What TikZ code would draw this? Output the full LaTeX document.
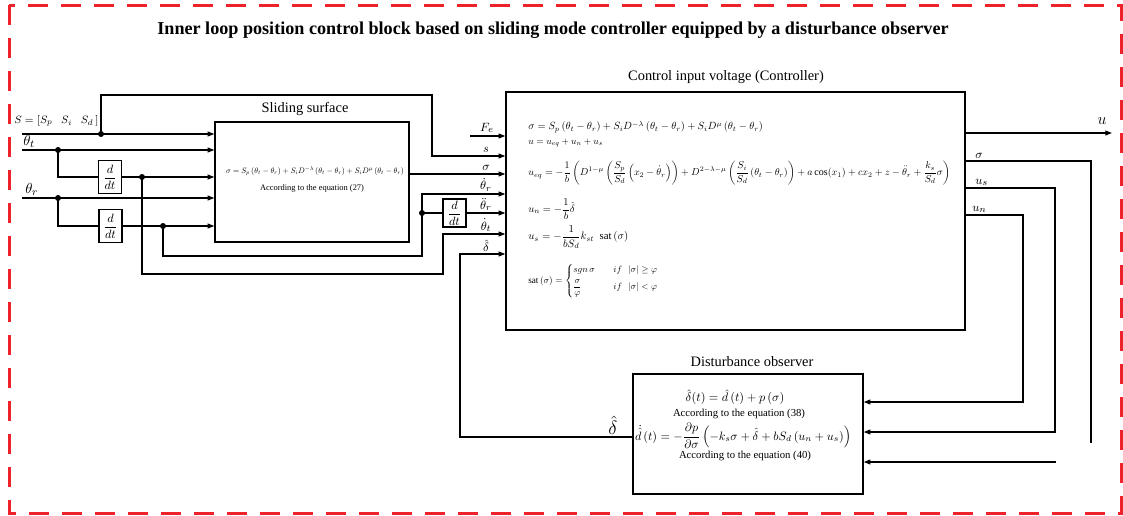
\documentclass[tikz,border=0pt]{standalone}
\usepackage{amsmath}
\usepackage{graphicx}
\usepackage{fontspec}
\setmainfont{Liberation Serif}
\usetikzlibrary{arrows.meta}
\definecolor{bred}{RGB}{237,34,42}
\begin{document}
\begin{tikzpicture}[x=0.75pt,y=-0.75pt,
  wire/.style={line width=1pt},
  arr/.style={wire,-{Triangle[length=5pt,width=3.6pt]}},
  blk/.style={draw,line width=1pt,inner sep=0pt},
  dtbox/.style={blk,minimum width=17.25pt,minimum height=24.75pt,font=\fontsize{9}{10}\selectfont},
  dot/.style={circle,fill,inner sep=0pt,minimum size=4.5pt},
  lbl/.style={inner sep=0pt,font=\fontsize{9.5}{11}\selectfont},
  head/.style={inner sep=0pt,font=\fontsize{10.8}{13}\selectfont},
  eq/.style={inner sep=0pt,anchor=west}]
\useasboundingbox (0,0) rectangle (1123,515);
% border
\draw[bred,line width=2.25pt,dash pattern=on 15pt off 9.75pt] (9,5) rectangle (1121,513);
\node[inner sep=0pt,font=\fontsize{13.6}{16}\selectfont\bfseries] (title) at (553,30)
  {Inner loop position control block based on sliding mode controller equipped by a disturbance observer};
% blocks
\node[blk,minimum width=145.5pt,minimum height=90pt] (ss) at (312,182) {};
\node[blk,minimum width=344.25pt,minimum height=178.5pt] (ctl) at (735.5,211) {};
\node[blk,minimum width=172.5pt,minimum height=90pt] (do) at (748,434) {};
\node[dtbox] (dt1) at (110,177) {$\dfrac{d}{dt}$};
\node[dtbox] (dt2) at (110.5,226) {$\dfrac{d}{dt}$};
\node[dtbox,minimum height=21pt] (dt3) at (454.5,213) {$\dfrac{d}{dt}$};
% headings
\node[head] (hss) at (305,109) {Sliding surface};
\node[head] (hctl) at (726,77) {Control input voltage (Controller)};
\node[head] (hdo) at (752,362) {Disturbance observer};
% sliding surface content
\node[inner sep=0pt] (eqss) at (315,171) {\resizebox{133.5pt}{!}{$\sigma=S_p\left(\theta_t-\theta_r\right)+S_iD^{-\lambda}\left(\theta_t-\theta_r\right)+S_iD^{\mu}\left(\theta_t-\theta_r\right)$}};
\node[inner sep=0pt] (a27) at (312,188) {\resizebox{78pt}{!}{According to the equation (27)}};
% controller content
\node[eq] (e1) at (528,127) {\resizebox{176pt}{!}{$\sigma=S_p\left(\theta_t-\theta_r\right)+S_iD^{-\lambda}\left(\theta_t-\theta_r\right)+S_iD^{\mu}\left(\theta_t-\theta_r\right)$}};
\node[eq] (e2) at (528,143) {\resizebox{56pt}{!}{$u=u_{eq}+u_n+u_s$}};
\node[eq] (e3) at (528,173) {\resizebox{316.5pt}{!}{$u_{eq}=-\dfrac{1}{b}\left(D^{1-\mu}\left(\dfrac{S_p}{S_d}\left(x_2-\dot{\theta}_r\right)\right)+D^{2-\lambda-\mu}\left(\dfrac{S_i}{S_d}\left(\theta_t-\theta_r\right)\right)+a\cos(x_1)+cx_2+z-\ddot{\theta}_r+\dfrac{k_s}{S_d}\sigma\right)$}};
\node[eq] (e4) at (528,209) {\resizebox{35pt}{!}{$u_n=-\dfrac{1}{b}\hat{\delta}$}};
\node[eq] (e5) at (528,237) {\resizebox{75pt}{!}{$u_s=-\dfrac{1}{bS_d}k_{st}\ \ \mathrm{sat}\left(\sigma\right)$}};
\node[eq] (e6) at (528,281) {\resizebox{97.5pt}{!}{$\mathrm{sat}\left(\sigma\right)=\left\{\begin{array}{@{}l@{\qquad}l@{}}sgn\,\sigma & if\ \ \left|\sigma\right|\ge\varphi\\[4pt] \dfrac{\sigma}{\varphi} & if\ \ \left|\sigma\right|<\varphi\end{array}\right.$}};
% observer content
\node[inner sep=0pt] (d1) at (735,397) {\resizebox{74pt}{!}{$\hat{\delta}(t)=\hat{d}\left(t\right)+p\left(\sigma\right)$}};
\node[inner sep=0pt] (a38) at (739,414) {\resizebox{99pt}{!}{According to the equation (38)}};
\node[inner sep=0pt] (d2) at (743,436) {\resizebox{162pt}{!}{$\dot{\hat{d}}\left(t\right)=-\dfrac{\partial p}{\partial\sigma}\left(-k_s\sigma+\hat{\delta}+bS_d\left(u_n+u_s\right)\right)$}};
\node[inner sep=0pt] (a40) at (745,456) {\resizebox{99pt}{!}{According to the equation (40)}};
% left inputs
\node[inner sep=0pt,anchor=west,font=\fontsize{8.5}{10}\selectfont] (Slab) at (14,121) {$S=[S_p\ \ \ S_i\ \ \ S_d\,]$};
\coordinate (inS) at (22,134);
\coordinate (inT) at (22,150);
\coordinate (inR) at (22,198);
\node[inner sep=0pt,anchor=south west,font=\fontsize{11}{13}\selectfont] (Tlab) at (23,148) {$\theta_t$};
\node[inner sep=0pt,anchor=south west,font=\fontsize{11}{13}\selectfont] (Rlab) at (25,196) {$\theta_r$};
\node[dot] (jS) at (101,134) {};
\node[dot] (jT1) at (58,150) {};
\node[dot] (jT2) at (142,177) {};
\node[dot] (jR1) at (58,198) {};
\node[dot] (jR2) at (163,226) {};
\node[dot] (jR3) at (422,213) {};
\draw[arr] (inS) -- (inS -| ss.west);
\draw[arr] (inT) -- (inT -| ss.west);
\draw[arr] (inR) -- (inR -| ss.west);
\draw[wire] (jT1.center) |- (dt1.west);
\draw[arr] (dt1.east) -- (dt1.east -| ss.west);
\draw[wire] (jR1.center) |- (dt2.west);
\draw[arr] (dt2.east) -- (dt2.east -| ss.west);
% to controller
\coordinate (Fe) at (470,136);
\draw[arr] (Fe) -- (Fe -| ctl.west);
\draw[arr] (jS.center) -- (101,95) -- (432,95) -- (432,156) -- (ctl.west |- 0,156);
\draw[arr] (ss.east |- 0,174) -- (ctl.west |- 0,174);
\draw[arr] (jR2.center) -- (163,256) -- (422,256) -- (422,194) -- (ctl.west |- 0,194);
\draw[wire] (jR3.center) -- (dt3.west);
\draw[arr] (dt3.east) -- (ctl.west |- dt3.east);
\draw[arr] (jT2.center) -- (142,274) -- (443,274) -- (443,234) -- (ctl.west |- 0,234);
\draw[arr] (do.west |- 0,437) -- (460,437) -- (460,254) -- (ctl.west |- 0,254);
% input labels
\node[lbl,anchor=south] (lFe) at (487,133) {$F_e$};
\node[lbl,anchor=south] (ls) at (486,153) {$s$};
\node[lbl,anchor=south] (lsig) at (486,171) {$\sigma$};
\node[lbl,anchor=south] (lthr) at (486,191.5) {$\dot{\theta}_r$};
\node[lbl,anchor=south] (lthrr) at (486,211) {$\ddot{\theta}_r$};
\node[lbl,anchor=south] (ltht) at (486,232) {$\dot{\theta}_t$};
\node[lbl,anchor=south] (ldel) at (486,252) {$\hat{\delta}$};
\node[inner sep=0pt,font=\fontsize{14}{16}\selectfont] (bigdel) at (613,425) {$\hat{\delta}$};
% outputs
\coordinate (uend) at (1112,133);
\draw[arr] (ctl.east |- uend) -- (uend);
\node[inner sep=0pt,font=\fontsize{12}{14}\selectfont] (ulab) at (1102,121) {$u$};
\draw[wire] (ctl.east |- 0,161) -- (1091,161) -- (1091,443);
\draw[arr] (ctl.east |- 0,188) -- (1055,188) -- (1055,432) -- (do.east |- 0,432);
\draw[arr] (ctl.east |- 0,215) -- (1023,215) -- (1023,402) -- (do.east |- 0,402);
\coordinate (in3) at (1056,462);
\draw[arr] (in3) -- (do.east |- in3);
\node[lbl,anchor=south west] (osig) at (975,159) {$\sigma$};
\node[lbl,anchor=south west] (ous) at (975,186) {$u_s$};
\node[lbl,anchor=south west] (oun) at (972,213) {$u_n$};
\end{tikzpicture}
\end{document}
